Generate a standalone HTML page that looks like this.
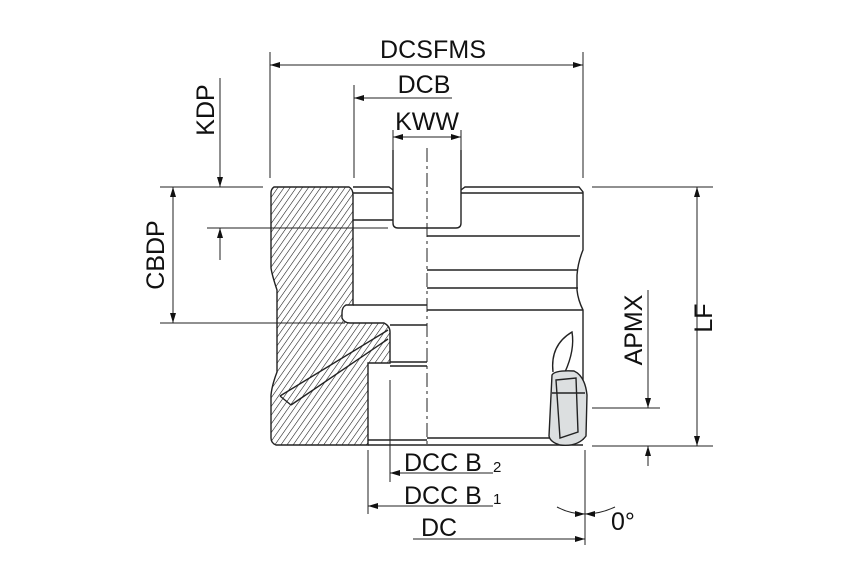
<!DOCTYPE html>
<html><head><meta charset="utf-8"><style>body{margin:0;background:#fff}svg{display:block}text{font-family:"Liberation Sans",sans-serif;fill:#111}</style></head><body>
<svg width="850" height="567" viewBox="0 0 850 567" xmlns="http://www.w3.org/2000/svg">
<defs>
<pattern id="h" width="5" height="6" patternUnits="userSpaceOnUse" patternTransform="rotate(35)">
<line x1="0" y1="0" x2="0" y2="6" stroke="#111" stroke-width="1.1"/></pattern>
<marker id="a" viewBox="0 0 10 6" refX="10" refY="3" markerWidth="10" markerHeight="6" orient="auto-start-reverse" markerUnits="userSpaceOnUse"><path d="M0,0L10,3L0,6z" fill="#111"/></marker>
</defs>
<g fill="none" stroke="#222" stroke-width="1.4">
<path d="M274,187 L349,187 Q353,189 353,195 L353,305 L346,305 Q342,307 342,313 L342,318 Q344,323 350,323 L384,323 Q390,326 390,332 L390,363 L368,363 L368,445 L276,445 Q271,443 271,438 L271,395 Q272,385 277,372 L277,290 Q272,275 271,268 L271,193 Q271,189 274,187 Z" fill="url(#h)"/>
<path d="M280,396 L388,330 M291,405 L388,339 M280,396 L291,405" fill="#fff"/>
<path d="M353,187 L389,187 L393,190 M461,190 L465,187 L579,187 L583,192 L583,250 Q578,262 577,275 L577,290 Q578,300 583,310 L583,440 M368,445 L583,445"/>
<path d="M393,150 L393,223 Q393,228 398,228 L456,228 Q461,228 461,223 L461,150"/>
<line x1="353" y1="193" x2="393" y2="193"/><line x1="461" y1="193" x2="583" y2="193"/>
<line x1="353" y1="220" x2="393" y2="220"/>
<line x1="427" y1="236" x2="580" y2="236"/>
<line x1="427" y1="270" x2="578" y2="270"/>
<line x1="427" y1="288" x2="578" y2="288"/>
<line x1="353" y1="305" x2="427" y2="305"/>
<line x1="427" y1="310" x2="583" y2="310"/>
<line x1="390" y1="325" x2="427" y2="325"/>
<line x1="390" y1="362" x2="427" y2="362"/>
<line x1="390" y1="366" x2="427" y2="366"/>
<line x1="368" y1="440" x2="427" y2="440"/>
<line x1="427" y1="438" x2="550" y2="438"/>
<path d="M553,372 Q550,345 572,332 Q575,350 565,372"/>
<path d="M552,375 Q555,370 574,371 Q585,376 587,395 L586,436 Q578,447 560,445 Q550,442 549,436 Z" fill="#dcdfe0"/>
<path d="M556,380 L576,378 L578,432 L560,438 Z M552,393 L585,393"/>
</g>
<line x1="427" y1="148" x2="427" y2="445" stroke="#222" stroke-width="1" stroke-dasharray="14,4,3,4"/>
<g stroke="#222" stroke-width="1" fill="none">
<line x1="270" y1="52" x2="270" y2="178"/><line x1="583" y1="52" x2="583" y2="178"/>
<line x1="354" y1="85" x2="354" y2="178"/>
<line x1="393" y1="130" x2="393" y2="150"/><line x1="461" y1="130" x2="461" y2="150"/>
<line x1="160" y1="187" x2="263" y2="187"/><line x1="207" y1="228" x2="388" y2="228"/>
<line x1="160" y1="323" x2="345" y2="323"/>
<line x1="592" y1="187" x2="713" y2="187"/><line x1="592" y1="446" x2="713" y2="446"/>
<line x1="592" y1="408" x2="660" y2="408"/>
<line x1="390" y1="380" x2="390" y2="482"/><line x1="368" y1="450" x2="368" y2="514"/>
<line x1="585" y1="450" x2="585" y2="545"/>
<line x1="270" y1="65" x2="583" y2="65" marker-start="url(#a)" marker-end="url(#a)"/>
<line x1="452" y1="98" x2="354" y2="98" marker-end="url(#a)"/>
<line x1="393" y1="137" x2="461" y2="137" marker-start="url(#a)" marker-end="url(#a)"/>
<line x1="220" y1="78" x2="220" y2="187" marker-end="url(#a)"/>
<line x1="220" y1="260" x2="220" y2="228" marker-end="url(#a)"/>
<line x1="173" y1="187" x2="173" y2="323" marker-start="url(#a)" marker-end="url(#a)"/>
<line x1="697" y1="187" x2="697" y2="446" marker-start="url(#a)" marker-end="url(#a)"/>
<line x1="648" y1="290" x2="648" y2="408" marker-end="url(#a)"/>
<line x1="648" y1="466" x2="648" y2="446" marker-end="url(#a)"/>
<line x1="493" y1="473" x2="390" y2="473" marker-end="url(#a)"/>
<line x1="493" y1="506" x2="368" y2="506" marker-end="url(#a)"/>
<line x1="413" y1="539" x2="585" y2="539" marker-end="url(#a)"/>
<path d="M557,507 Q570,514 585,514" marker-end="url(#a)"/>
<path d="M615,507 Q600,514 585,514" marker-end="url(#a)"/>
</g>
<g font-size="25">
<text x="433" y="58" text-anchor="middle" textLength="106">DCSFMS</text>
<text x="424" y="93" text-anchor="middle">DCB</text>
<text x="427" y="130" text-anchor="middle">KWW</text>
<text transform="translate(214,110) rotate(-90)" text-anchor="middle">KDP</text>
<text transform="translate(164,255) rotate(-90)" text-anchor="middle">CBDP</text>
<text transform="translate(712,318) rotate(-90)" text-anchor="middle">LF</text>
<text transform="translate(642,330) rotate(-90)" text-anchor="middle">APMX</text>
<text x="404" y="471">DCC B</text><text x="493" y="472" font-size="15">2</text>
<text x="404" y="504">DCC B</text><text x="493" y="504" font-size="15">1</text>
<text x="421" y="536">DC</text>
<text x="611" y="530">0°</text>
</g>
</svg>
</body></html>
